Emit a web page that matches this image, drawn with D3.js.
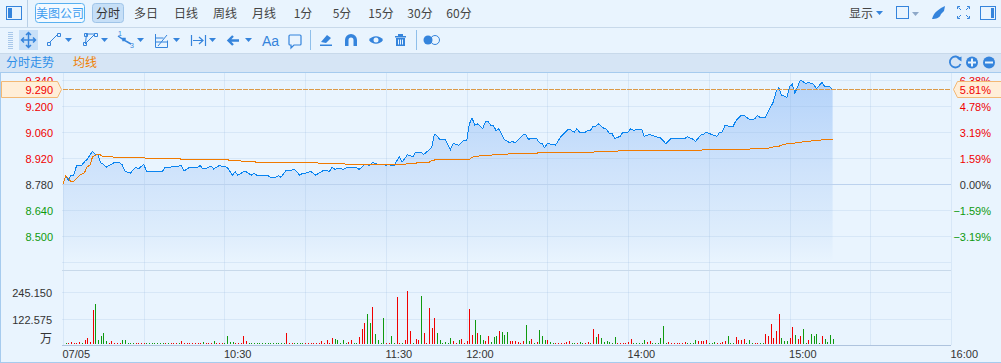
<!DOCTYPE html>
<html>
<head>
<meta charset="utf-8">
<script src="https://cdn.jsdelivr.net/npm/d3@7"></script>
<style>
    html, body { margin: 0; padding: 0; background: #e9f4fe; overflow: hidden; }
    svg { display: block; font-family: "Liberation Sans", Arial, sans-serif; }
    .cjk { font-family: "Noto Sans CJK SC", sans-serif; }
</style>
</head>
<body>
<script>
// minutes since the open (lunch break removed), price
let priceMinutes = [
    0, 1, 2, 3, 4, 5, 7, 8, 9, 11, 12, 13, 14, 15, 16, 19, 21, 22, 23, 25, 27, 28, 30, 31, 37, 38, 42, 44, 45, 47,
    50, 51, 52, 53, 55, 56, 58, 61, 63, 64, 65, 67, 68, 70, 71, 72, 76, 77, 79, 80, 81, 83, 84, 86, 88, 89, 91, 92, 94, 95,
    97, 99, 100, 101, 103, 104, 106, 109, 110, 111, 112, 114, 115, 117, 119, 120, 121, 122, 123, 125, 126, 128, 130, 131, 133, 134, 137, 138, 139, 140,
    142, 144, 145, 147, 149, 150, 151, 152, 153, 154, 156, 157, 158, 159, 160, 161, 162, 164, 166, 167, 168, 171, 172, 173, 174, 176, 177, 178, 179, 180,
    183, 185, 188, 190, 191, 192, 194, 195, 196, 197, 198, 199, 201, 202, 203, 204, 205, 207, 208, 210, 211, 212, 215, 216, 218, 220, 222, 224, 226, 231,
    232, 234, 235, 237, 238, 239, 243, 244, 245, 246, 249, 250, 252, 253, 255, 257, 258, 259, 261, 264, 265, 266, 267, 269, 270, 271, 272, 274, 276, 277,
    279, 280, 282, 283, 285, 286
];
let priceValues = [
    8.78, 8.825, 8.80, 8.827, 8.828, 8.877, 8.882, 8.90, 8.913, 8.956, 8.94, 8.936, 8.895, 8.886, 8.87, 8.895, 8.895, 8.883, 8.85, 8.838, 8.87, 8.861, 8.886, 8.85, 8.85, 8.87, 8.873, 8.88, 8.85, 8.87,
    8.87, 8.88, 8.861, 8.861, 8.877, 8.861, 8.879, 8.87, 8.827, 8.846, 8.827, 8.846, 8.846, 8.828, 8.838, 8.827, 8.827, 8.816, 8.816, 8.825, 8.816, 8.855, 8.85, 8.859, 8.827, 8.838, 8.84, 8.849, 8.827, 8.838,
    8.855, 8.848, 8.87, 8.859, 8.865, 8.859, 8.87, 8.868, 8.859, 8.87, 8.886, 8.88, 8.895, 8.886, 8.886, 8.88, 8.886, 8.88, 8.88, 8.927, 8.897, 8.938, 8.927, 8.951, 8.951, 8.938, 8.976, 9.048, 9.04, 9.02,
    9.02, 8.966, 8.998, 8.989, 9.016, 9.012, 9.102, 9.136, 9.097, 9.104, 9.079, 9.117, 9.117, 9.095, 9.093, 9.066, 9.079, 9.02, 9.002, 9.009, 9.002, 9.045, 9.045, 9.02, 9.027, 9.025, 9.002, 8.998, 8.975, 8.998,
    8.989, 9.034, 9.077, 9.058, 9.078, 9.058, 9.058, 9.069, 9.069, 9.092, 9.09, 9.104, 9.079, 9.075, 9.052, 9.052, 9.025, 9.036, 9.058, 9.06, 9.078, 9.069, 9.076, 9.036, 9.047, 9.036, 9.029, 8.998, 9.025, 9.025,
    9.034, 9.022, 9.009, 9.043, 9.047, 9.058, 9.036, 9.058, 9.06, 9.094, 9.089, 9.119, 9.15, 9.15, 9.128, 9.13, 9.148, 9.139, 9.139, 9.223, 9.277, 9.30, 9.259, 9.247, 9.304, 9.317, 9.269, 9.34, 9.322, 9.327,
    9.317, 9.292, 9.327, 9.307, 9.303, 9.29
];

// orange average line
let avgMinutes = [
    0, 1, 2, 3, 4, 6, 8, 9, 10, 11, 13, 14, 15, 18, 19, 30, 31, 43, 44, 61, 62, 66, 67, 71, 72, 94, 95, 104, 105, 127,
    128, 131, 132, 136, 137, 139, 151, 152, 155, 159, 160, 165, 166, 176, 177, 197, 198, 206, 207, 237, 238, 255, 256, 262, 263, 266, 268, 271, 274, 277,
    280, 285, 286
];
let avgValues = [
    8.78, 8.825, 8.81, 8.792, 8.796, 8.825, 8.841, 8.873, 8.882, 8.927, 8.94, 8.936, 8.927, 8.927, 8.924, 8.922, 8.918, 8.918, 8.913, 8.913, 8.905, 8.905, 8.90, 8.90, 8.897, 8.897, 8.891, 8.891, 8.886, 8.886,
    8.891, 8.891, 8.897, 8.897, 8.905, 8.913, 8.913, 8.924, 8.932, 8.932, 8.94, 8.94, 8.945, 8.945, 8.951, 8.951, 8.956, 8.956, 8.961, 8.961, 8.967, 8.967, 8.972, 8.972, 8.978, 8.983, 8.994, 8.999, 9.005, 9.01,
    9.015, 9.021, 9.021
];

// one bar a minute, in 万
let volumes = [
    0, 4, 4, 11, 4, 4, 9, 4, 19, 28,
    9, 155, 184, 19, 38, 52, 14, 4, 14, 4,
    4, 4, 17, 17, 4, 4, 4, 4, 4, 4,
    4, 4, 4, 4, 4, 4, 4, 4, 4, 4,
    4, 4, 4, 4, 14, 4, 4, 4, 4, 4,
    4, 4, 9, 4, 4, 4, 14, 4, 4, 4,
    4, 38, 9, 9, 4, 4, 4, 38, 14, 4,
    4, 4, 4, 4, 4, 4, 4, 4, 4, 4,
    4, 4, 4, 52, 4, 4, 4, 4, 4, 4,
    4, 4, 4, 4, 4, 4, 14, 4, 19, 4,
    28, 24, 19, 4, 19, 4, 8, 19, 4, 4,
    31, 71, 99, 137, 99, 170, 47, 19, 4, 118,
    4, 4, 38, 4, 217, 4, 4, 19, 245, 61,
    4, 24, 19, 221, 52, 4, 165, 75, 118, 52,
    19, 4, 9, 4, 28, 14, 4, 19, 24, 4,
    14, 160, 42, 113, 52, 42, 19, 14, 38, 9,
    33, 38, 61, 57, 42, 57, 14, 14, 14, 8,
    4, 14, 89, 14, 24, 4, 9, 66, 38, 19,
    19, 8, 4, 4, 4, 4, 4, 8, 13, 4,
    4, 4, 8, 4, 4, 9, 4, 71, 33, 47,
    28, 9, 14, 9, 4, 33, 4, 4, 4, 4,
    9, 24, 4, 4, 4, 4, 19, 9, 14, 4,
    4, 4, 28, 85, 4, 8, 4, 4, 4, 4,
    4, 9, 4, 4, 4, 19, 14, 14, 14, 19,
    4, 4, 9, 4, 4, 9, 14, 38, 4, 4,
    33, 19, 19, 24, 4, 19, 4, 4, 4, 4,
    4, 47, 38, 94, 28, 61, 141, 28, 14, 14,
    28, 80, 42, 24, 38, 71, 4, 19, 47, 38,
    47, 4, 38, 24, 9, 42, 24
];
// 1 = red bar, 0 = green bar
let volumeUp = [
    1, 0, 1, 1, 1, 1, 1, 0, 1, 1,
    1, 1, 0, 0, 0, 0, 0, 1, 1, 1,
    1, 1, 0, 0, 0, 0, 0, 1, 1, 1,
    1, 0, 0, 0, 0, 0, 0, 0, 1, 0,
    1, 1, 1, 0, 1, 1, 1, 1, 1, 1,
    1, 1, 0, 1, 1, 1, 0, 1, 1, 1,
    0, 0, 0, 0, 1, 1, 1, 1, 1, 0,
    0, 0, 0, 0, 0, 0, 0, 0, 0, 0,
    0, 0, 0, 1, 1, 1, 0, 0, 0, 0,
    1, 1, 1, 1, 1, 1, 1, 1, 1, 1,
    1, 0, 0, 0, 0, 0, 1, 1, 0, 0,
    1, 1, 1, 0, 0, 1, 0, 0, 0, 0,
    1, 1, 0, 0, 1, 1, 0, 1, 1, 1,
    0, 1, 1, 0, 1, 1, 1, 1, 1, 0,
    0, 0, 0, 0, 0, 1, 1, 0, 1, 1,
    1, 1, 1, 0, 1, 0, 0, 1, 1, 0,
    0, 0, 1, 0, 0, 0, 1, 1, 1, 1,
    1, 1, 0, 0, 1, 0, 1, 0, 0, 0,
    1, 0, 0, 1, 1, 1, 1, 1, 1, 0,
    0, 1, 0, 0, 1, 1, 0, 1, 0, 1,
    0, 0, 0, 0, 0, 0, 1, 1, 1, 1,
    1, 1, 0, 0, 0, 0, 0, 1, 1, 0,
    0, 0, 0, 0, 0, 1, 1, 1, 1, 1,
    1, 1, 0, 0, 0, 0, 1, 1, 1, 1,
    0, 0, 0, 1, 1, 1, 1, 0, 0, 0,
    1, 1, 1, 1, 0, 0, 0, 1, 1, 0,
    0, 1, 1, 1, 1, 1, 1, 0, 0, 0,
    1, 1, 0, 1, 1, 0, 0, 1, 0, 0,
    0, 0, 1, 0, 0, 0, 0
];

let prevClose = 8.78;
let lastPrice = 9.29;
let priceTicks = [9.34, 9.2, 9.06, 8.92, 8.78, 8.64, 8.5];
let priceGrid = [9.34, 9.2, 9.06, 8.92, 8.78, 8.64, 8.5, 8.36];
let volumeTicks = [245.15, 122.575];
let timeGrid = d3.range(0, 331, 30);
let timeTicks = [0, 60, 120, 150, 210, 270, 330];
let timeLabels = ["07/05", "10:30", "11:30", "12:00", "14:00", "15:00", "16:00"];
let periods = ["多日", "日线", "周线", "月线", "1分", "5分", "15分", "30分", "60分"];
let periodX = [146, 186, 225, 264, 303, 342, 381, 420, 459];

let blue = "#3584dc";
let red = "#f00000";
let green = "#0f9a0f";

function drawToolbar(svg) {
    let bar = svg.append("g");

    bar.append("rect").attr("x", 0).attr("y", 53).attr("width", 1001).attr("height", 19).attr("fill", "#d6e5f5");
    [[27.5, "#c8d9ea"], [53.5, "#c8d9ea"], [72.5, "#a6cbee"]].forEach((l) => {
        bar.append("line").attr("x1", 0).attr("x2", 1001).attr("y1", l[0]).attr("y2", l[0]).attr("stroke", l[1]);
    });
    bar.append("line").attr("x1", 27.5).attr("x2", 27.5).attr("y1", 0).attr("y2", 27).attr("stroke", "#b9cfe6");

    // company button and active period
    bar.append("rect").attr("x", 35.5).attr("y", 3.5).attr("width", 49).attr("height", 19).attr("rx", 3)
        .attr("fill", "#f4faff").attr("stroke", "#58b0f0");
    bar.append("text").attr("class", "cjk").attr("x", 60).attr("y", 18).attr("text-anchor", "middle")
        .attr("font-size", 12).attr("fill", "#3d9df0").text("美图公司");
    bar.append("rect").attr("x", 92.5).attr("y", 3.5).attr("width", 31).attr("height", 19).attr("rx", 3)
        .attr("fill", "#c6dff7").attr("stroke", "#9fc4e8");
    bar.append("text").attr("class", "cjk").attr("x", 108).attr("y", 18).attr("text-anchor", "middle")
        .attr("font-size", 12).attr("fill", "#333").text("分时");

    bar.selectAll(".period").data(periods).enter().append("text")
        .attr("class", "period cjk")
        .attr("x", (d, i) => periodX[i]).attr("y", 18).attr("text-anchor", "middle")
        .attr("font-size", 12).attr("fill", "#444").text((d) => d);

    bar.append("text").attr("class", "cjk").attr("x", 861).attr("y", 18).attr("text-anchor", "middle")
        .attr("font-size", 12).attr("fill", "#444").text("显示");
    bar.append("text").attr("class", "cjk").attr("x", 6).attr("y", 67).attr("font-size", 12).attr("fill", "#2f8fe8").text("分时走势");
    bar.append("text").attr("class", "cjk").attr("x", 73).attr("y", 67).attr("font-size", 12).attr("fill", "#f08000").text("均线");

    // small dropdown arrows
    let tri = (x, y, c) => bar.append("path").attr("d", `M${x - 4},${y - 2}h7l-3.5,4z`).attr("fill", c || blue);
    [69, 105, 141, 177, 213, 249].forEach((x) => tri(x, 40));
    tri(880, 13);
    tri(916, 14, "#8ea8c8");

    // panel buttons
    bar.append("rect").attr("x", 6.5).attr("y", 6.5).attr("width", 15).attr("height", 13).attr("fill", "none").attr("stroke", blue);
    bar.append("rect").attr("x", 8).attr("y", 8).attr("width", 4).attr("height", 10).attr("fill", blue);
    bar.append("rect").attr("x", 980.5).attr("y", 6.5).attr("width", 15).attr("height", 13).attr("fill", "none").attr("stroke", blue);
    bar.append("rect").attr("x", 991).attr("y", 8).attr("width", 3).attr("height", 10).attr("fill", blue);
    bar.append("rect").attr("x", 896.5).attr("y", 6.5).attr("width", 12).attr("height", 12).attr("fill", "none").attr("stroke", blue);

    // brush, fullscreen
    bar.append("path").attr("d", "M932,19c1,-3 2,-6 5,-8l4,-3l4,-2l-1,5l-3,3c-1,4 -5,5 -9,5z").attr("fill", blue);
    bar.append("path").attr("d", "M957.5,9v-2.5h2.5M967,6.5h2.5v2.5M969.5,16v2.5h-2.5M960,18.5h-2.5v-2.5M958.5,7.5l2.5,2.5M968.5,7.5l-2.5,2.5M968.5,17.5l-2.5,-2.5M958.5,17.5l2.5,-2.5")
        .attr("fill", "none").attr("stroke", blue);

    // second row tools
    for (let y = 32; y < 50; y += 2) {
        bar.append("line").attr("x1", 8).attr("x2", 13).attr("y1", y + 0.5).attr("y2", y + 0.5).attr("stroke", "#a9c8ea");
    }
    bar.append("rect").attr("x", 19).attr("y", 30).attr("width", 19).attr("height", 20).attr("fill", "#c8e0f8");
    let tool = (d, w) => bar.append("path").attr("d", d).attr("fill", "none").attr("stroke", blue).attr("stroke-width", w || 1);
    tool("M28.5,33v14M21.5,40h14M26,35l2.5,-2.5l2.5,2.5M26,45l2.5,2.5l2.5,-2.5M24,37.5l-2.5,2.5l2.5,2.5M33,37.5l2.5,2.5l-2.5,2.5", 1.5);
    tool("M49,43l9,-9M47.5,42.5h3v3h-3zM57.5,33.5h3v3h-3z");
    tool("M85.5,43l1,-9M87,34h8M85,44l10,-10M83.5,42.5h3v3h-3zM84.5,33.5h3v3h-3zM94.5,33.5h3v3h-3z");
    tool("M118,36l6,4l7,4M123,38.5h2v2h-2z", 1.5);
    bar.append("text").attr("x", 118).attr("y", 36).attr("font-size", 7).attr("fill", blue).text("1");
    bar.append("text").attr("x", 130).attr("y", 48).attr("font-size", 7).attr("fill", blue).text("3");
    tool("M155.5,34v13.5h12v-7M155.5,38h8M155.5,42h12M158,46l9,-11");
    tool("M191.5,35v11M205.5,35v11M193,40.5h10M199,37l4,3.5l-4,3.5", 1.2);
    tool("M228,40.5h11M233,36l-4.5,4.5l4.5,4.5", 2.4);
    bar.append("text").attr("x", 262).attr("y", 46).attr("font-size", 14).attr("fill", blue).text("Aa");
    tool("M290,35h10a1,1 0 0 1 1,1v8a1,1 0 0 1 -1,1h-6l-3,3v-3h-1a1,1 0 0 1 -1,-1v-8a1,1 0 0 1 1,-1z", 1.2);
    bar.append("line").attr("x1", 310.5).attr("x2", 310.5).attr("y1", 30).attr("y2", 50).attr("stroke", "#8fbfea");
    bar.append("line").attr("x1", 416.5).attr("x2", 416.5).attr("y1", 30).attr("y2", 50).attr("stroke", "#8fbfea");
    bar.append("path").attr("d", "M321,42l6,-7l4,3l-5,5zM320,44.5h12v1.5h-12z").attr("fill", blue);
    bar.append("path").attr("d", "M345,46v-6a6,6 0 0 1 12,0v6h-3.5v-6a2.5,2.5 0 0 0 -5,0v6z").attr("fill", blue);
    bar.append("path").attr("d", "M369,40c3,-5 11,-5 14,0c-3,5 -11,5 -14,0z").attr("fill", blue);
    bar.append("circle").attr("cx", 376).attr("cy", 40).attr("r", 2.5).attr("fill", "#e9f4fe");
    bar.append("path").attr("d", "M395,36h11v1.5h-11zM398,34h5v2h-5zM396,38h9v8h-9z").attr("fill", blue);
    bar.append("path").attr("d", "M398.5,39.5v5M400.5,39.5v5M402.5,39.5v5").attr("stroke", "#e9f4fe");
    bar.append("circle").attr("cx", 428).attr("cy", 40).attr("r", 4.5).attr("fill", blue);
    bar.append("circle").attr("cx", 435).attr("cy", 40).attr("r", 4.5).attr("fill", "none").attr("stroke", blue);

    // header buttons on the right
    bar.append("path").attr("d", "M960,59a5.5,5.5 0 1 0 0.5,5").attr("fill", "none").attr("stroke", blue).attr("stroke-width", 1.8);
    bar.append("path").attr("d", "M957,58.5l4.5,-2v5z").attr("fill", blue);
    [972, 989].forEach((x) => bar.append("circle").attr("cx", x).attr("cy", 62.5).attr("r", 6).attr("fill", blue));
    bar.append("path").attr("d", "M968,62.5h8M972,58.5v8M985,62.5h8").attr("stroke", "#e9f4fe").attr("stroke-width", 2);
}

function drawVis() {
    let svgWidth = 1001;
    let svgHeight = 363;

    let svg = d3.select("body").append("svg")
        .attr("width", svgWidth)
        .attr("height", svgHeight);

    let left = 63;
    let right = 951;

    let xScale = d3.scaleLinear().domain([0, 330]).range([left, right]);
    let yScale = d3.scaleLinear().domain([8.36, 9.34]).range([262, 80]);
    let volScale = d3.scaleLinear().domain([0, 245.15]).range([345, 292]);

    let defs = svg.append("defs");
    let grad = defs.append("linearGradient").attr("id", "areaFill")
        .attr("gradientUnits", "userSpaceOnUse")
        .attr("x1", 0).attr("x2", 0).attr("y1", 80).attr("y2", 262);
    grad.append("stop").attr("offset", "0%").attr("stop-color", "#b4d3fa");
    grad.append("stop").attr("offset", "50%").attr("stop-color", "#cfe3fb");
    grad.append("stop").attr("offset", "85%").attr("stop-color", "#deedfc");
    grad.append("stop").attr("offset", "100%").attr("stop-color", "#e9f4fe");

    // price area goes under the grid, the grid shows through it
    let priceRows = priceMinutes.map((m, i) => ({m: m, v: priceValues[i]}));
    let avgRows = avgMinutes.map((m, i) => ({m: m, v: avgValues[i]}));

    let area = d3.area()
        .x((d) => xScale(d.m))
        .y0(yScale(8.36))
        .y1((d) => yScale(d.v));
    svg.append("path").datum(priceRows).attr("d", area).attr("fill", "url(#areaFill)");

    // grid
    let gridColor = "#8fb4dc";
    let gridOpacity = 0.2;
    let grid = svg.append("g");
    grid.selectAll(".hgrid").data(priceGrid).enter().append("line")
        .attr("x1", left - 1).attr("x2", right)
        .attr("y1", (d) => Math.round(yScale(d)) + 0.5).attr("y2", (d) => Math.round(yScale(d)) + 0.5)
        .attr("stroke", gridColor).attr("stroke-opacity", gridOpacity);
    grid.selectAll(".vgrid").data(volumeTicks).enter().append("line")
        .attr("x1", left - 1).attr("x2", right)
        .attr("y1", (d) => Math.round(volScale(d)) + 0.5).attr("y2", (d) => Math.round(volScale(d)) + 0.5)
        .attr("stroke", gridColor).attr("stroke-opacity", gridOpacity);
    grid.selectAll(".tgrid").data(timeGrid).enter().append("line")
        .attr("x1", (d) => Math.round(xScale(d)) + 0.5).attr("x2", (d) => Math.round(xScale(d)) + 0.5)
        .attr("y1", 72).attr("y2", 345)
        .attr("stroke", gridColor).attr("stroke-opacity", gridOpacity);
    grid.append("line").attr("x1", left - 1).attr("x2", right).attr("y1", 270.5).attr("y2", 270.5).attr("stroke", "#c8d9ea");

    // prev close line is stronger than the rest
    svg.append("line").attr("x1", left - 1).attr("x2", right)
        .attr("y1", Math.round(yScale(prevClose)) + 0.5).attr("y2", Math.round(yScale(prevClose)) + 0.5)
        .attr("stroke", "#bcd2ee");

    let line = d3.line().x((d) => xScale(d.m)).y((d) => yScale(d.v));
    svg.append("path").datum(priceRows).attr("d", line)
        .attr("fill", "none").attr("stroke", "#0a84f0").attr("shape-rendering", "crispEdges");
    svg.append("path").datum(avgRows).attr("d", line)
        .attr("fill", "none").attr("stroke", "#f07a00").attr("shape-rendering", "crispEdges");

    // last price
    svg.append("line").attr("x1", left).attr("x2", right)
        .attr("y1", Math.round(yScale(lastPrice)) + 0.5).attr("y2", Math.round(yScale(lastPrice)) + 0.5)
        .attr("stroke", "#dc9a48").attr("stroke-dasharray", "5,1");

    // volume bars
    svg.selectAll(".vol").data(volumes).enter().append("rect")
        .attr("class", "vol")
        .attr("x", (d, i) => Math.round(xScale(i)))
        .attr("width", 1)
        .attr("y", (d) => Math.min(344, Math.round(volScale(d)) - 1))
        .attr("height", (d) => d === 0 ? 0 : Math.max(1, 345 - Math.round(volScale(d))))
        .attr("fill", (d, i) => volumeUp[i] ? red : green);

    svg.append("line").attr("x1", left - 1).attr("x2", right).attr("y1", 345.5).attr("y2", 345.5).attr("stroke", "#aec3de");

    // axes
    let styleAxis = (g) => {
        g.select(".domain").remove();
        g.selectAll("text").attr("font-size", 11).attr("font-family", '"Liberation Sans", Arial, sans-serif');
    };
    let tickColor = (d) => d > prevClose ? red : (d < prevClose ? green : "#333");

    svg.append("g")
        .attr("transform", "translate(53,1)")
        .call(d3.axisLeft(yScale).tickValues(priceTicks).tickSize(0).tickPadding(0).tickFormat(d3.format(".3f")))
        .call(styleAxis)
        .selectAll("text").attr("fill", tickColor);

    svg.append("g")
        .attr("transform", "translate(991,1)")
        .call(d3.axisRight(yScale).tickValues(priceTicks).tickSize(0).tickPadding(0)
            .tickFormat((d) => d3.format(".2f")((d - prevClose) / prevClose * 100) + "%"))
        .call(styleAxis)
        .selectAll("text").attr("text-anchor", "end").attr("fill", tickColor);

    svg.append("g")
        .attr("transform", "translate(52,1)")
        .call(d3.axisLeft(volScale).tickValues(volumeTicks).tickSize(0).tickPadding(0).tickFormat(d3.format(".3f")))
        .call(styleAxis)
        .selectAll("text").attr("fill", "#333");
    svg.append("text").attr("class", "cjk").attr("x", 52).attr("y", 343).attr("text-anchor", "end")
        .attr("font-size", 12).attr("fill", "#333").text("万");

    svg.append("g")
        .attr("transform", "translate(-1,350)")
        .call(d3.axisBottom(xScale).tickValues(timeTicks).tickSize(0).tickPadding(0)
            .tickFormat((d, i) => timeLabels[i]))
        .call(styleAxis)
        .selectAll("text").attr("text-anchor", "start").attr("fill", "#333");

    // price flags on both sides
    let flagY = Math.round(yScale(lastPrice)) + 0.5;
    svg.append("path")
        .attr("d", `M1.5,${flagY - 8}H57.5L61.5,${flagY}L57.5,${flagY + 8}H1.5z`)
        .attr("fill", "#ffeed8").attr("stroke", "#f3b874");
    svg.append("text").attr("x", 53).attr("y", flagY + 4).attr("text-anchor", "end")
        .attr("font-size", 11).attr("fill", red).text(d3.format(".3f")(lastPrice));
    svg.append("path")
        .attr("d", `M1002,${flagY - 8}H957.5L953.5,${flagY}L957.5,${flagY + 8}H1002z`)
        .attr("fill", "#ffeed8").attr("stroke", "#f3b874");
    svg.append("text").attr("x", 991).attr("y", flagY + 4).attr("text-anchor", "end")
        .attr("font-size", 11).attr("fill", red)
        .text(d3.format(".2f")((lastPrice - prevClose) / prevClose * 100) + "%");

    drawToolbar(svg);

    // outer border
    svg.append("line").attr("x1", 0.5).attr("x2", 0.5).attr("y1", 72).attr("y2", 363).attr("stroke", "#a6cbee");
    svg.append("line").attr("x1", 0).attr("x2", 1001).attr("y1", 362.5).attr("y2", 362.5).attr("stroke", "#a6cbee");
}

document.addEventListener("DOMContentLoaded", () => {
    drawVis();
});
</script>
</body>
</html>
